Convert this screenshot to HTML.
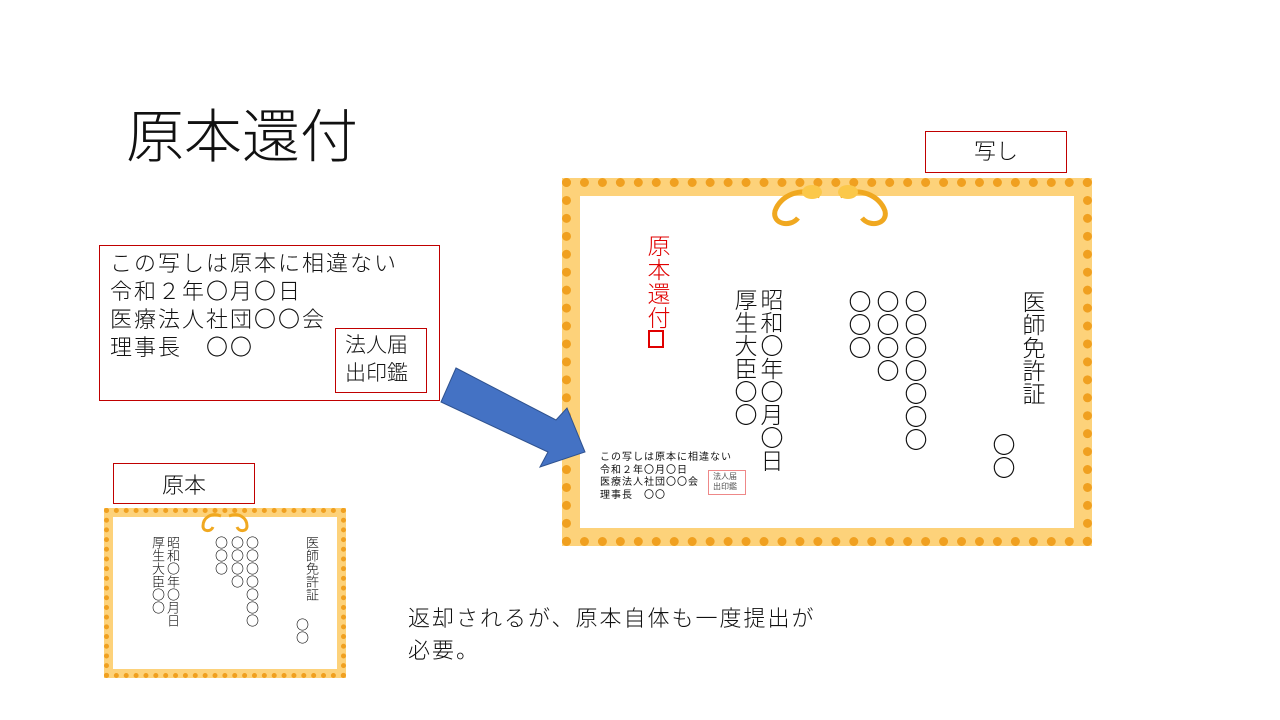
<!DOCTYPE html>
<html><head><meta charset="utf-8"><style>
body{margin:0;width:1280px;height:720px;position:relative;background:#fff;font-family:"Liberation Sans","Noto Sans CJK JP",sans-serif;color:#111;overflow:hidden}
.a{position:absolute}
.box{position:absolute;border:1px solid #c00000;box-sizing:border-box}
.v{position:absolute;writing-mode:vertical-rl;white-space:nowrap;font-weight:300}
.frame{position:absolute;box-sizing:border-box;border:9px dotted #f0a020;background:#fdd27a}
.in{position:absolute;background:#fff}
</style></head><body>
<div class="a" style="left:126px;top:102px;font-size:58px;line-height:72px;font-weight:300">原本還付</div>

<div class="box" style="left:925px;top:131px;width:142px;height:42px"></div>
<div class="a" style="left:925px;top:134px;width:142px;text-align:center;font-size:22px;font-weight:300">写し</div>

<div class="box" style="left:99px;top:245px;width:341px;height:156px"></div>
<div class="a" style="left:110px;top:250px;font-size:22px;line-height:28px;letter-spacing:2px;font-weight:300">この写しは原本に相違ない<br>令和２年〇月〇日<br>医療法人社団〇〇会<br>理事長　〇〇</div>
<div class="box" style="left:335px;top:328px;width:92px;height:65px"></div>
<div class="a" style="left:345px;top:332px;font-size:21px;line-height:28px;font-weight:300">法人届<br>出印鑑</div>

<div class="box" style="left:113px;top:463px;width:142px;height:41px"></div>
<div class="a" style="left:113px;top:468px;width:142px;text-align:center;font-size:22px;font-weight:300">原本</div>

<!-- large cert -->
<div class="frame" style="left:562px;top:178px;width:530px;height:368px"></div>
<div class="in" style="left:580px;top:196px;width:494px;height:332px"></div>
<svg class="a" style="left:760px;top:176px" width="140" height="56"><g fill="none" stroke="#f0a820" stroke-width="5"><path d="M60 20 C40 10 20 20 15 35 C12 48 30 52 38 42"/><path d="M80 20 C100 10 120 20 125 35 C128 48 110 52 102 42"/></g><ellipse cx="52" cy="16" rx="10" ry="7" fill="#fbc84a"/><ellipse cx="88" cy="16" rx="10" ry="7" fill="#fbc84a"/></svg>
<div class="v" style="left:644px;top:234px;font-size:23px;line-height:26px;color:#e00000;letter-spacing:1px">原本還付</div>
<div class="a" style="left:648px;top:330px;width:16px;height:18px;border:2px solid #e00000;box-sizing:border-box"></div>
<div class="v" style="left:756px;top:288px;font-size:23px;line-height:28px">昭和〇年〇月〇日</div>
<div class="v" style="left:730px;top:288px;font-size:23px;line-height:28px">厚生大臣〇〇</div>
<div class="v" style="left:900px;top:290px;font-size:23px;line-height:28px">〇〇〇〇〇〇〇</div>
<div class="v" style="left:872px;top:290px;font-size:23px;line-height:28px">〇〇〇〇</div>
<div class="v" style="left:844px;top:290px;font-size:23px;line-height:28px">〇〇〇</div>
<div class="v" style="left:1018px;top:290px;font-size:23px;line-height:28px">医師免許証</div>
<div class="v" style="left:988px;top:433px;font-size:23px;line-height:28px">〇〇</div>
<div class="a" style="left:600px;top:452px;font-size:10px;line-height:12.5px;letter-spacing:1px">この写しは原本に相違ない<br>令和２年〇月〇日<br>医療法人社団〇〇会<br>理事長　〇〇</div>
<div class="a" style="left:708px;top:470px;width:32px;height:22px;border:1px solid #e88;font-size:8px;line-height:10px;color:#555;padding:1px 0 0 4px">法人届<br>出印鑑</div>

<!-- small cert -->
<div class="frame" style="left:104px;top:508px;width:242px;height:170px;border-width:5px"></div>
<div class="in" style="left:113px;top:517px;width:224px;height:152px"></div>
<svg class="a" style="left:195px;top:508px" width="60" height="28"><g fill="none" stroke="#f0a820" stroke-width="3"><path d="M26 8 C16 4 8 10 8 18 C8 24 16 24 18 19"/><path d="M34 8 C44 4 52 10 52 18 C52 24 44 24 42 19"/></g></svg>
<div class="v" style="left:304px;top:536px;font-size:13px;line-height:15px">医師免許証</div>
<div class="v" style="left:294px;top:618px;font-size:13px;line-height:15px">〇〇</div>
<div class="v" style="left:244px;top:536px;font-size:13px;line-height:15px">〇〇〇〇〇〇〇</div>
<div class="v" style="left:229px;top:536px;font-size:13px;line-height:15px">〇〇〇〇</div>
<div class="v" style="left:213px;top:536px;font-size:13px;line-height:15px">〇〇〇</div>
<div class="v" style="left:165px;top:536px;font-size:13px;line-height:15px">昭和〇年〇月日</div>
<div class="v" style="left:150px;top:536px;font-size:13px;line-height:15px">厚生大臣〇〇</div>

<svg class="a" style="left:0;top:0" width="1280" height="720"><polygon points="456,368 556,420 567,408 585,452 540,467 548,452 441,402" fill="#4472c4" stroke="#2f528f" stroke-width="1"/></svg>

<div class="a" style="left:408px;top:603px;font-size:22px;line-height:32px;letter-spacing:2px;font-weight:300">返却されるが、原本自体も一度提出が<br>必要。</div>
</body></html>
